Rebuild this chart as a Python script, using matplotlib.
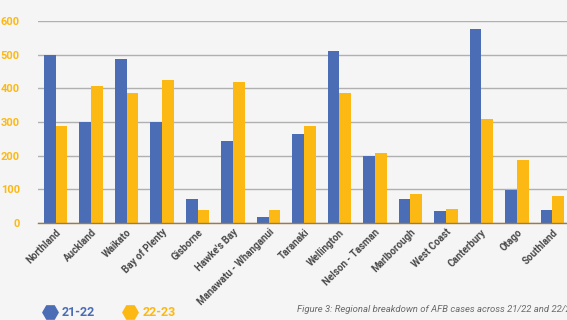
import matplotlib
matplotlib.use("Agg")
import matplotlib.pyplot as plt
import numpy as np

regions = ["Northland", "Auckland", "Waikato", "Bay of Plenty", "Gisborne",
           "Hawke's Bay", "Manawatu - Whanganui", "Taranaki", "Wellington",
           "Nelson - Tasman", "Marlborough", "West Coast", "Canterbury",
           "Otago", "Southland"]
cases_21_22 = [500, 300, 486, 300, 70, 243, 18, 265, 510, 200, 70, 35, 576, 99, 39]
cases_22_23 = [287, 408, 385, 424, 40, 418, 40, 288, 386, 208, 87, 43, 310, 187, 79]
yticks = [0, 100, 200, 300, 400, 500, 600]

BLUE = "#4a6db5"
GOLD = "#fdb913"
BG = "#f5f5f5"

plt.rcParams["font.family"] = ["Roboto", "DejaVu Sans"]

fig = plt.figure(figsize=(5.67, 3.2), dpi=100, facecolor=BG)
ax = fig.add_axes([38/567, 1 - 223/320, 532/567, 202/320], facecolor=BG)

x = np.arange(len(regions))
w = 0.33
ax.bar(x - w/2, cases_21_22, w, color=BLUE, zorder=3)
ax.bar(x + w/2, cases_22_23, w, color=GOLD, zorder=3)

ax.set_xlim(-0.5, len(regions) - 0.5)
ax.set_ylim(0, 600)
ax.set_yticks(yticks)
ax.set_yticklabels([str(v) for v in yticks], color=GOLD, fontsize=8, fontweight="bold")
ax.grid(axis="y", color="#b0b0b0", linewidth=1, zorder=0)
for s in ["top", "right", "left"]:
    ax.spines[s].set_visible(False)
ax.spines["bottom"].set_color("#a07a40")
ax.spines["bottom"].set_linewidth(1)
ax.spines["bottom"].set_zorder(4)
ax.tick_params(axis="y", length=0, pad=13)
ax.tick_params(axis="x", length=0, pad=3)
ax.set_xticks(x)
ax.set_xticklabels(regions, rotation=45, ha="right", rotation_mode="anchor",
                   fontsize=7, fontweight="bold", color="#4a4a4a")

# legend with hexagon markers
ly = 1 - 312/320
fig.lines.append(plt.Line2D([49.5/567], [ly], marker="H", markersize=11,
                            color=BLUE, transform=fig.transFigure))
fig.lines.append(plt.Line2D([129.5/567], [ly], marker="H", markersize=11,
                            color=GOLD, transform=fig.transFigure))
fig.text(62/567, ly, "21-22", color=BLUE, fontsize=9, fontweight="bold", va="center")
fig.text(143/567, ly, "22-23", color=GOLD, fontsize=9, fontweight="bold", va="center")

fig.text(297/567, 1 - 310/320,
         "Figure 3: Regional breakdown of AFB cases across 21/22 and 22/23",
         color="#6a6a6a", fontsize=6.8, fontstyle="italic", va="center")

fig.savefig("out.png", dpi=100, facecolor=BG)
